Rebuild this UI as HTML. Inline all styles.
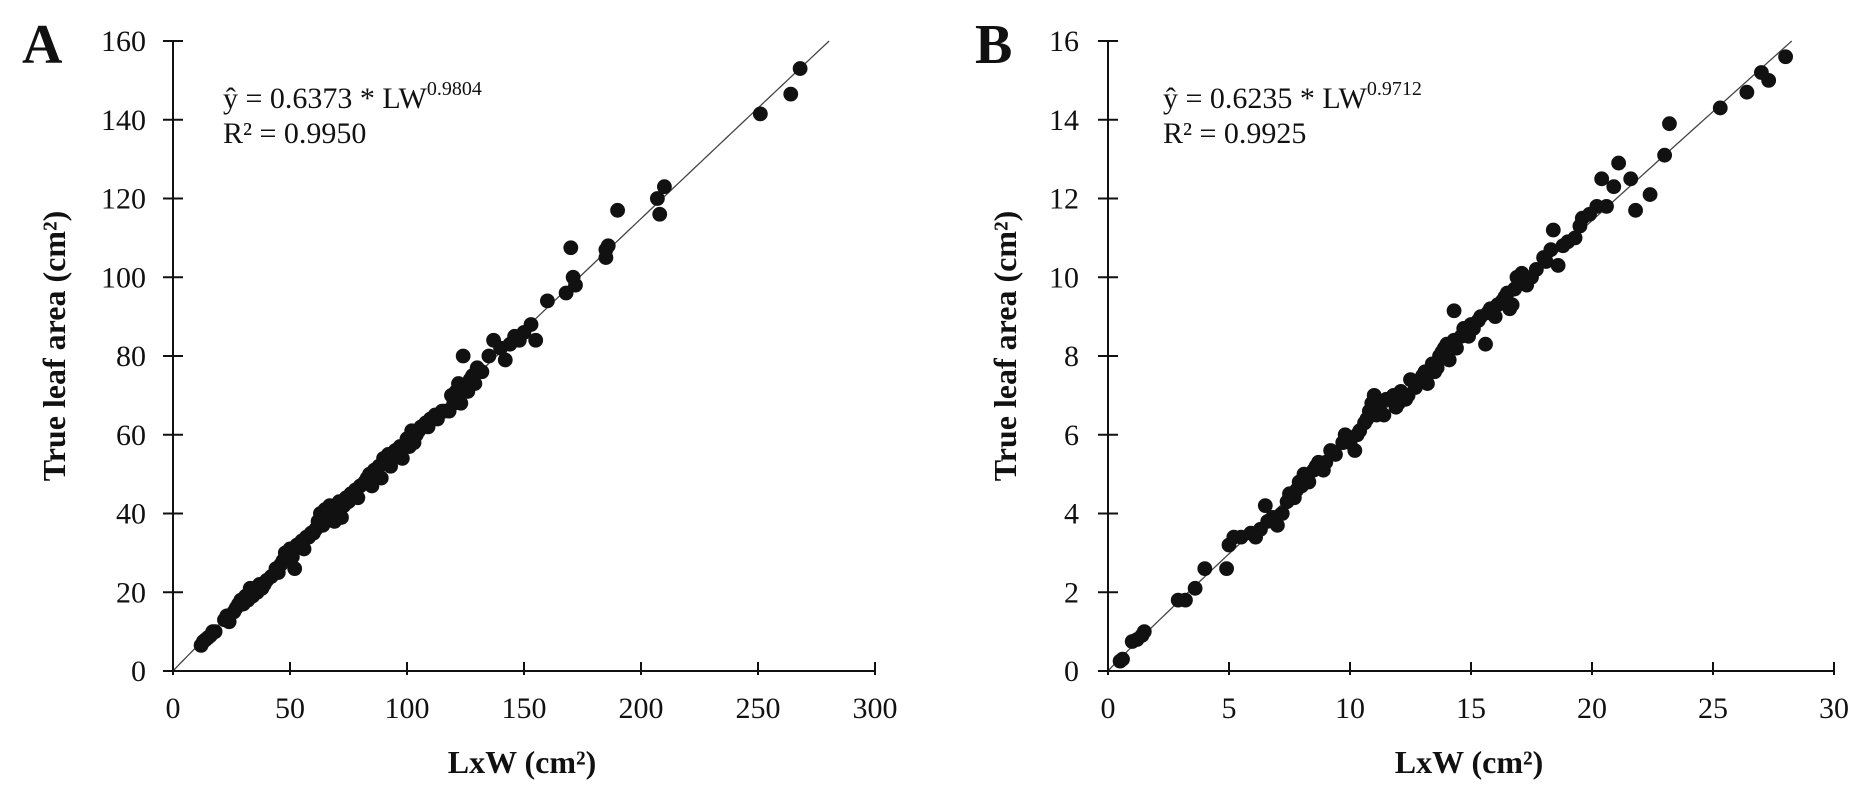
<!DOCTYPE html>
<html>
<head>
<meta charset="utf-8">
<style>
  html,body{margin:0;padding:0;background:#fff;}
  svg{display:block;}
  text{font-family:"Liberation Serif","Times New Roman",serif;fill:#111;}
</style>
</head>
<body>
<svg id="chart" width="1860" height="786" viewBox="0 0 1860 786" xmlns="http://www.w3.org/2000/svg">
  <g id="panelA"></g>
  <g id="panelB"></g>
</svg>
<script>
// Panel A data
const aXTicks = [0, 50, 100, 150, 200, 250, 300];
const aYTicks = [0, 20, 40, 60, 80, 100, 120, 140, 160];
const aLW = [12,13,14,15,16,17,18,22,23,24,27,28,29,30,31,32,33,34,35,36,37,38,40,42,44,45,47,48,50,51,52,53,55,56,58,60,61,62,63,64,65,66,67,68,69,70,71,72,73,74,75,76,78,80,82,84,85,86,88,89,90,92,93,95,97,98,100,101,102,104,106,108,110,112,115,118,119,121,122,123,124,125,127,128,130,132,135,137,140,142,144,146,148,150,153,155,160,168,170,171,172,185,185,186,190,207,208,210,251,264,268,
 26,33,39,46,49,54,57,59,64,66,69,72,77,79,83,87,91,94,96,99,103,105,109,113,116,120,126,129];
const aArea = [6.5,7.5,8,8.5,9,10,10,13,14,12.5,16,17,18,17,19,18,20,19,21,20,22,21,23,24,26,25,28,30,31,29,26,32,33,31,34,35,36,38,40,37,41,39,42,40,38,41,43,39,42,44,43,45,46,47,48,50,47,51,52,49,54,55,52,56,57,54,59,57,61,60,62,63,64,65,66,66,70,71,73,68,80,72,74,75,77,76,80,84,82,79,83,85,84,86,88,84,94,96,107.5,100,98,105,107,108,117,120,116,123,141.5,146.5,153,
 15,21,22,27,29,32,34,35,38,40,40,42,45,44,49,51,53,54,55,57,58,61,62,64,66,68,71,73];
const aCoef = 0.6373, aExp = 0.9804;

// Panel B data
const bXTicks = [0, 5, 10, 15, 20, 25, 30];
const bYTicks = [0, 2, 4, 6, 8, 10, 12, 14, 16];
const bLW = [0.5,0.6,1.0,1.2,1.4,1.5,2.9,3.2,3.6,4.0,4.9,5.0,5.2,5.5,5.9,6.1,6.3,6.5,6.6,7.0,7.2,7.5,7.7,7.9,8.1,8.3,8.5,8.7,8.9,9.4,9.7,9.8,10.0,10.2,10.4,10.6,10.8,11.0,11.2,11.4,11.6,11.8,12.0,12.3,12.5,12.7,13.0,13.2,13.5,13.7,13.9,14.1,14.3,14.3,14.6,14.8,15.0,15.3,15.6,15.8,16.0,16.3,16.5,16.7,16.9,17.1,17.3,17.5,18.0,18.3,18.4,18.6,19.0,19.3,19.6,20.2,20.4,20.6,20.9,21.1,21.6,21.8,22.4,23.0,23.2,25.3,26.4,27.0,27.3,28.0,
 6.8,7.4,7.8,8.0,8.6,9.0,9.2,9.9,10.3,10.7,10.9,11.1,11.5,11.9,12.1,12.4,12.8,13.1,13.4,13.6,13.8,14.0,14.4,14.7,14.9,15.1,15.4,15.7,16.1,16.4,16.6,16.8,17.2,17.7,18.1,18.8,19.5,19.9];
const bArea = [0.25,0.3,0.75,0.8,0.9,1.0,1.8,1.8,2.1,2.6,2.6,3.2,3.4,3.4,3.5,3.4,3.6,4.2,3.8,3.7,4.0,4.5,4.4,4.8,5.0,4.8,5.1,5.3,5.1,5.5,5.8,6.0,5.8,5.6,6.1,6.3,6.6,7.0,6.7,6.5,6.9,7.0,6.8,6.9,7.4,7.2,7.5,7.3,7.6,8.0,8.2,7.9,8.4,9.15,8.5,8.6,8.8,8.9,8.3,9.2,9.0,9.4,9.6,9.3,10.0,10.1,9.8,10.0,10.5,10.7,11.2,10.3,10.9,11.0,11.5,11.8,12.5,11.8,12.3,12.9,12.5,11.7,12.1,13.1,13.9,14.3,14.7,15.2,15.0,15.6,
 3.9,4.3,4.6,4.7,5.2,5.3,5.6,5.9,6.0,6.4,6.8,6.5,6.9,6.7,7.1,7.0,7.3,7.6,7.8,7.7,8.1,8.3,8.2,8.7,8.5,8.7,9.0,9.1,9.3,9.5,9.2,9.7,9.9,10.2,10.4,10.8,11.3,11.6];
const bCoef = 0.6235, bExp = 0.9712;

const NS = "http://www.w3.org/2000/svg";
function mk(parent, tag, attrs){
  const e = document.createElementNS(NS, tag);
  for (const k in attrs) e.setAttribute(k, attrs[k]);
  parent.appendChild(e);
  return e;
}

function drawPanel(g, cfg){
  const {x0, x1, y0, y1, xMax, yMax, xTicks, yTicks, xs, ys, coef, expo, letter, letterX, eqX, coefTxt, expTxt, r2Txt, yLabelRight, yTitleX, xTitleX} = cfg;
  const sx = v => x0 + (v / xMax) * (x1 - x0);
  const sy = v => y0 - (v / yMax) * (y0 - y1);

  let xEnd = Math.pow(yMax / coef, 1 / expo);
  let d = "";
  const n = 200;
  for (let i = 0; i <= n; i++){
    const xv = xEnd * i / n;
    const yv = coef * Math.pow(xv, expo);
    d += (i ? "L" : "M") + sx(xv).toFixed(2) + "," + sy(yv).toFixed(2);
  }
  const curve = mk(g, "path", {d: d, fill: "none", stroke: "#444", "stroke-width": 1.3});
  
  

  const pts = mk(g, "g", {});
  
  
  for (let i = 0; i < xs.length; i++){
    const c = mk(pts, "circle", {cx: sx(xs[i]), cy: sy(ys[i]), r: 7.4, fill: "#111"});
    
    
  }

  const yAxis = mk(g, "line", {x1: x0, y1: y0, x2: x0, y2: y1, stroke: "#111", "stroke-width": 2});
  
  
  const xAxis = mk(g, "line", {x1: x0 - 10, y1: y0, x2: x1, y2: y0, stroke: "#111", "stroke-width": 2});
  
  

  yTicks.forEach(t => {
    const y = sy(t);
    const tk = mk(g, "line", {x1: x0 - 10, y1: y, x2: x0 + 10, y2: y, stroke: "#111", "stroke-width": 2});
    
    
    const lb = mk(g, "text", {x: yLabelRight, y: y + 10, "text-anchor": "end", "font-size": 30});
    
    
    lb.textContent = t;
  });
  xTicks.forEach(t => {
    const x = sx(t);
    const tk = mk(g, "line", {x1: x, y1: y0 - 9, x2: x, y2: y0 + 4, stroke: "#111", "stroke-width": 2});
    
    
    const lb = mk(g, "text", {x: x, y: y0 + 47, "text-anchor": "middle", "font-size": 30});
    
    
    lb.textContent = t;
  });

  const xt = mk(g, "text", {x: xTitleX, y: 773, "text-anchor": "middle", "font-size": 32, "font-weight": "bold"});
  
  
  xt.textContent = "LxW (cm²)";
  const yt = mk(g, "text", {x: 0, y: 0, "text-anchor": "middle", "font-size": 32, "font-weight": "bold", transform: "translate(" + (yTitleX + 11) + ",346) rotate(-90)"});
  
  
  yt.setAttribute('xml:space', 'preserve');
  yt.textContent = "True  leaf area (cm²)";

  const pl = mk(g, "text", {x: letterX, y: 63, "font-size": 56, "font-weight": "bold"});
  
  
  pl.textContent = letter;

  const eq = mk(g, "text", {x: eqX, y: 108, "font-size": 30});
  
  
  eq.textContent = "ŷ = " + coefTxt + " * LW";
  const sup = mk(eq, "tspan", {"font-size": 20, dy: -13});
  sup.textContent = expTxt;
  const r2 = mk(g, "text", {x: eqX, y: 143, "font-size": 30});
  
  
  r2.textContent = "R² = " + r2Txt;
}

drawPanel(document.getElementById("panelA"), {
  x0: 173, x1: 875, y0: 671, y1: 41, xMax: 300, yMax: 160,
  xTicks: aXTicks, yTicks: aYTicks, xs: aLW, ys: aArea, coef: aCoef, expo: aExp,
  letter: "A", letterX: 22, eqX: 223, coefTxt: "0.6373", expTxt: "0.9804", r2Txt: "0.9950",
  yLabelRight: 146, yTitleX: 54, xTitleX: 522
});
drawPanel(document.getElementById("panelB"), {
  x0: 1108, x1: 1834, y0: 671, y1: 41, xMax: 30, yMax: 16,
  xTicks: bXTicks, yTicks: bYTicks, xs: bLW, ys: bArea, coef: bCoef, expo: bExp,
  letter: "B", letterX: 975, eqX: 1163, coefTxt: "0.6235", expTxt: "0.9712", r2Txt: "0.9925",
  yLabelRight: 1079, yTitleX: 1005, xTitleX: 1469
});
</script>
</body>
</html>
